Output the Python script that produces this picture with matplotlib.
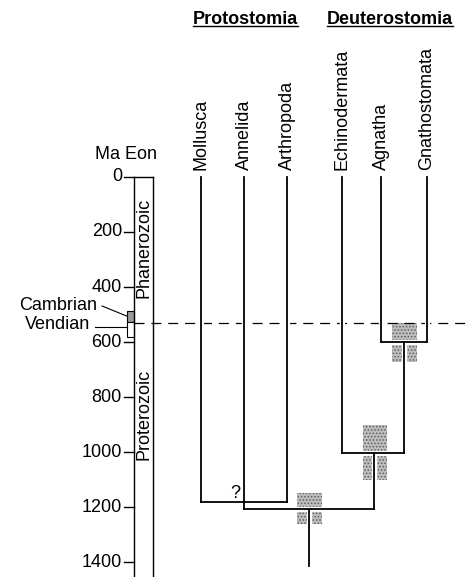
import matplotlib.pyplot as plt
from matplotlib.patches import Rectangle

plt.rcParams["font.family"] = ["Liberation Sans", "DejaVu Sans"]
plt.rcParams["hatch.linewidth"] = 0.7

# taxa (left to right) and their x slots
taxa = ["Mollusca", "Annelida", "Arthropoda", "Echinodermata", "Agnatha", "Gnathostomata"]
taxa_x = [201, 244, 287, 342, 381, 427]

# divergence times (Ma)
t_moll_arth = 1182
t_proto_deut = 1207
t_echino = 1003
t_agn_gna = 600
t_root_end = 1415

# error ranges (Ma) on the three dated nodes
err_agn_gna = (531, 672)
err_echino = (902, 1102)
err_root = (1150, 1262)

# time scale
ticks = [0, 200, 400, 600, 800, 1000, 1200, 1400]
cambrian = (487, 527)
vendian = (527, 582)
boundary = 530

fig = plt.figure(figsize=(4.72, 5.77), dpi=100)
ax = fig.add_axes([0, 0, 1, 1])
ax.set_xlim(0, 472)
ax.set_ylim(1454.5, -643.6)
ax.axis("off")

FS = 13
LW = 1.3

# eon column
col_l, col_r = 134, 153
ax.plot([col_l, col_l], [0, 1460], color="black", lw=1.0)
ax.plot([col_r, col_r], [0, 1460], color="black", lw=1.0)
ax.plot([col_l, col_r], [0, 0], color="black", lw=1.0)
ax.text(143.5, 258, "Phanerozoic", rotation=90, ha="center", va="center", fontsize=FS)
ax.text(143.5, 865, "Proterozoic", rotation=90, ha="center", va="center", fontsize=FS)

# ticks
for t in ticks:
    ax.plot([124, col_l], [t, t], color="black", lw=1.0)
    ax.text(122, t, str(t), ha="right", va="center", fontsize=FS)
ax.text(126, -80, "Ma Eon", ha="center", va="center", fontsize=FS)

# cambrian / vendian boxes
ax.add_patch(Rectangle((127, cambrian[0]), 6.5, cambrian[1] - cambrian[0],
                       facecolor="#9a9a9a", edgecolor="black", lw=0.8))
ax.add_patch(Rectangle((127, vendian[0]), 6.5, vendian[1] - vendian[0],
                       facecolor="white", edgecolor="black", lw=0.8))
ax.text(97, 469, "Cambrian", ha="right", va="center", fontsize=FS)
ax.plot([102, 127], [469, 506], color="black", lw=0.8)
ax.text(90, 535, "Vendian", ha="right", va="center", fontsize=FS)
ax.plot([95, 127], [547, 547], color="black", lw=0.8)

# dashed boundary line
ax.plot([col_l, 472], [boundary, boundary], color="black", lw=0.9, dashes=(8, 5.5))

# error boxes
for (x0, w), (lo, hi) in [((392, 25), err_agn_gna), ((363, 24), err_echino), ((297, 25), err_root)]:
    ax.add_patch(Rectangle((x0, lo), w, hi - lo, facecolor="#bdbdbd",
                           edgecolor="#5e5e5e", hatch=".....", lw=0))

# tree segments
xm, xan, xar, xe, xag, xg = taxa_x
x_ag_node = (xag + xg) / 2
x_e_node = 374
x_root = 309
segs = [
    ([xm, xm], [0, t_moll_arth]),
    ([xar, xar], [0, t_moll_arth]),
    ([xm, xar], [t_moll_arth, t_moll_arth]),
    ([xan, xan], [0, t_proto_deut]),
    ([xe, xe], [0, t_echino]),
    ([xag, xag], [0, t_agn_gna]),
    ([xg, xg], [0, t_agn_gna]),
    ([xag, xg], [t_agn_gna, t_agn_gna]),
    ([x_ag_node, x_ag_node], [t_agn_gna, t_echino]),
    ([xe, x_ag_node], [t_echino, t_echino]),
    ([x_e_node, x_e_node], [t_echino, t_proto_deut]),
    ([xan, x_e_node], [t_proto_deut, t_proto_deut]),
    ([x_root, x_root], [t_proto_deut, t_root_end]),
]
for xs, ys in segs:
    ax.plot(xs, ys, color="white", lw=LW + 2.5, solid_capstyle="butt")
for xs, ys in segs:
    ax.plot(xs, ys, color="black", lw=LW, solid_capstyle="projecting")

ax.text(235, 1150, "?", ha="center", va="center", fontsize=FS)

# taxon labels
for name, x in zip(taxa, taxa_x):
    ax.text(x, -25, name, rotation=90, ha="center", va="bottom", fontsize=FS)

# group headings
for name, x in [("Protostomia", 245), ("Deuterostomia", 390)]:
    ax.text(x, -574, name, ha="center", va="center", fontsize=FS, fontweight="bold")
ax.plot([193, 298], [-549, -549], color="black", lw=1.0)
ax.plot([327, 453], [-549, -549], color="black", lw=1.0)

fig.savefig("out.png", dpi=100)
